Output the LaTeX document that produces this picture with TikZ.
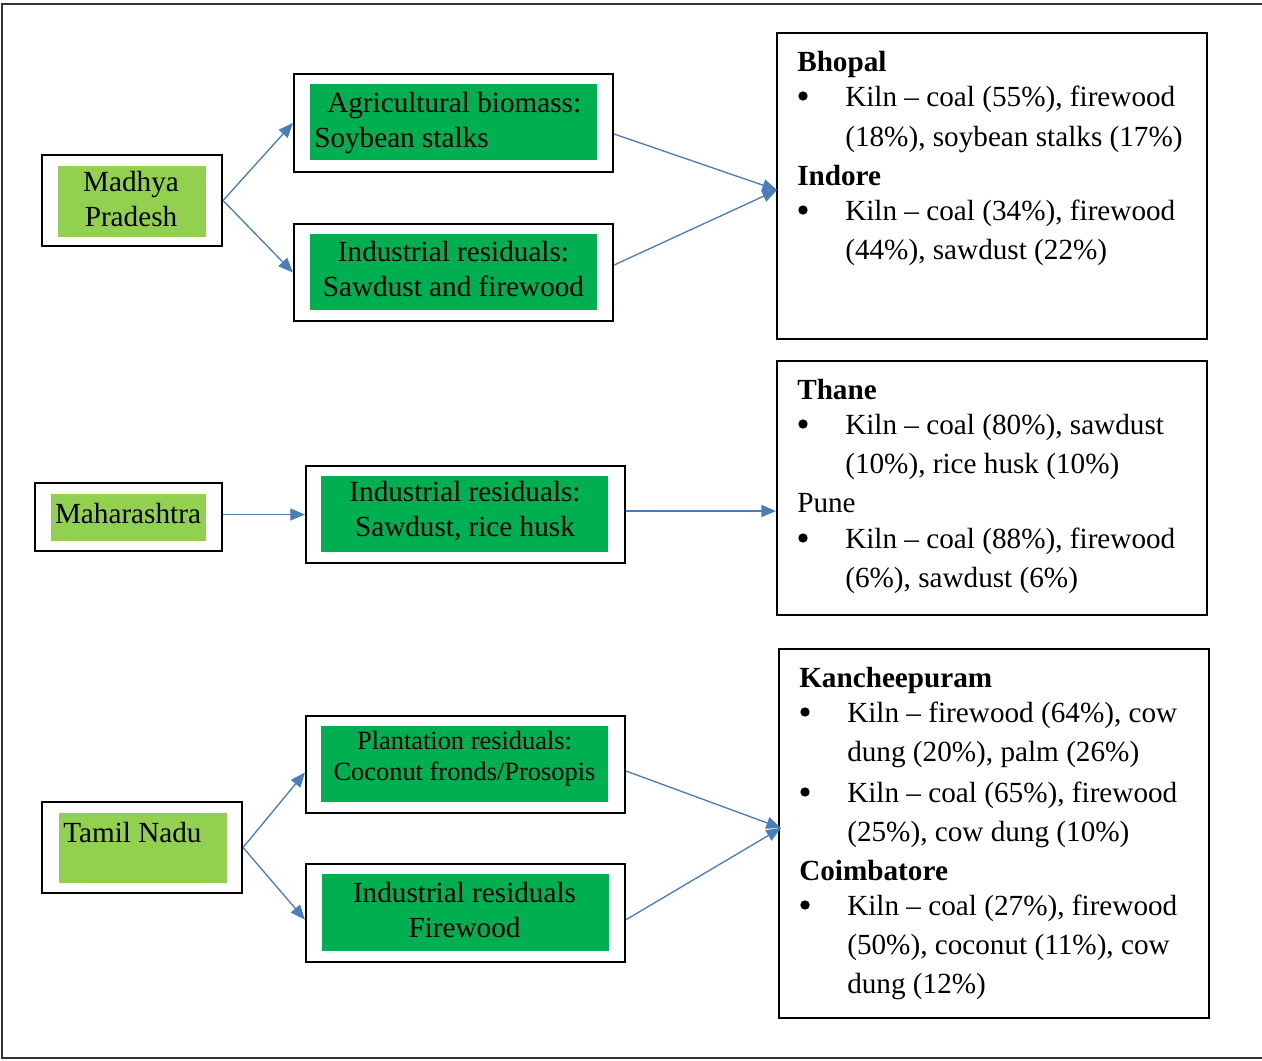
\documentclass[tikz,border=0pt]{standalone}
\usepackage{fontspec}
\setmainfont{Liberation Serif}
\usetikzlibrary{arrows.meta}
\definecolor{lgreen}{RGB}{146,208,80}
\definecolor{dgreen}{RGB}{0,176,80}
\definecolor{conn}{RGB}{74,126,187}
\tikzset{
  frame/.style={draw=black, line width=1.6pt, fill=white, inner sep=0pt},
  lbox/.style={fill=lgreen, inner sep=0pt},
  gbox/.style={fill=dgreen, inner sep=0pt},
  rbox/.style={draw=black, line width=1.4pt, inner sep=0pt},
  txt/.style={inner sep=0pt, font=\fontsize{21.9}{26.25}\selectfont},
  stxt/.style={inner sep=0pt, font=\fontsize{19.8}{23.25}\selectfont},
  ln/.style={inner sep=0pt, anchor=base west, font=\fontsize{21.9}{26}\selectfont},
  hd/.style={ln, font=\fontsize{21.9}{26}\selectfont\bfseries},
  bul/.style={circle, fill=black, inner sep=0pt, minimum size=7pt},
  conn/.style={draw=conn, line width=1pt, -{Triangle[length=11pt,width=9pt]}}
}
\begin{document}
\begin{tikzpicture}[x=0.75pt,y=-0.75pt]
\useasboundingbox (0,0) rectangle (1262,1060);
\begin{scope}
\clip (0,0) rectangle (1262,1060);
\draw[black!80, line width=1.5pt] (1270,4) -- (2,4) -- (2,1058) -- (1270,1058);
\end{scope}
% ---- Madhya Pradesh
\node[frame, minimum width=135pt, minimum height=68.25pt] (mp) at (132,200.5) {};
\node[lbox, minimum width=111pt, minimum height=53.25pt] (mpg) at (132,201.5) {};
\node[txt, align=center] (mpt) at (131,199.5) {Madhya\\Pradesh};
% ---- Agricultural biomass
\node[frame, minimum width=239.25pt, minimum height=73.5pt] (agri) at (453.5,123) {};
\node[gbox, minimum width=215.25pt, minimum height=57pt] (agrig) at (453.5,122) {};
\node[ln] (agri1) at (327,112) {Agricultural biomass:};
\node[ln] (agri2) at (314,147) {Soybean stalks};
% ---- Industrial residuals 1
\node[frame, minimum width=239.25pt, minimum height=72.75pt] (ind1) at (453.5,272.5) {};
\node[gbox, minimum width=215.25pt, minimum height=57pt] (ind1g) at (453.5,272) {};
\node[txt, align=center] (ind1t) at (453.5,269.5) {Industrial residuals:\\Sawdust and firewood};
% ---- Right box 1
\node[rbox, minimum width=322.5pt, minimum height=229.5pt] (b1) at (992,186) {};
\node[hd] (bhopal) at (797,71) {Bhopal};
\node[bul] (b1a) at (803,96) {};
\node[ln] (b1b) at (845,106) {Kiln – coal (55\%), firewood};
\node[ln] (b1c) at (845,146) {(18\%), soybean stalks (17\%)};
\node[hd] (indore) at (797,185) {Indore};
\node[bul] (b1d) at (803,210) {};
\node[ln] (b1e) at (845,220) {Kiln – coal (34\%), firewood};
\node[ln] (b1f) at (845,259) {(44\%), sawdust (22\%)};
% ---- Maharashtra
\node[frame, minimum width=140.25pt, minimum height=51pt] (mh) at (128.5,517) {};
\node[lbox, minimum width=116.25pt, minimum height=35.25pt] (mhg) at (128.5,517.5) {};
\node[txt] (mht) at (128,514) {Maharashtra};
% ---- Industrial residuals 2
\node[frame, minimum width=239.25pt, minimum height=72.75pt] (ind2) at (465.5,514.5) {};
\node[gbox, minimum width=215.25pt, minimum height=57pt] (ind2g) at (464.5,514) {};
\node[txt, align=center] (ind2t) at (465,511.5) {Industrial residuals:\\Sawdust, rice husk};
% ---- Right box 2
\node[rbox, minimum width=322.5pt, minimum height=190.5pt] (b2) at (992,488) {};
\node[hd] (thane) at (797,399) {Thane};
\node[bul] (b2a) at (803,424) {};
\node[ln] (b2b) at (845,434) {Kiln – coal (80\%), sawdust};
\node[ln] (b2c) at (845,473) {(10\%), rice husk (10\%)};
\node[ln] (pune) at (797,512) {Pune};
\node[bul] (b2d) at (803,538) {};
\node[ln] (b2e) at (845,548) {Kiln – coal (88\%), firewood};
\node[ln] (b2f) at (845,587) {(6\%), sawdust (6\%)};
% ---- Tamil Nadu
\node[frame, minimum width=150pt, minimum height=68.25pt] (tn) at (142,847.5) {};
\node[lbox, minimum width=126pt, minimum height=52.5pt] (tng) at (143,848) {};
\node[ln] (tnt) at (63,842) {Tamil Nadu};
% ---- Plantation residuals
\node[frame, minimum width=239.25pt, minimum height=72.75pt] (pl) at (465.5,764.5) {};
\node[gbox, minimum width=215.25pt, minimum height=57pt] (plg) at (464.5,764) {};
\node[stxt, align=center] (plt) at (464.5,758.5) {Plantation residuals:\\Coconut fronds/Prosopis};
% ---- Industrial residuals 3
\node[frame, minimum width=239.25pt, minimum height=73.5pt] (ind3) at (465.5,913) {};
\node[gbox, minimum width=215.25pt, minimum height=57.75pt] (ind3g) at (465.5,912.5) {};
\node[txt, align=center] (ind3t) at (464.5,909.5) {Industrial residuals\\Firewood};
% ---- Right box 3
\node[rbox, minimum width=322.5pt, minimum height=276.75pt] (b3) at (994,833.5) {};
\node[hd] (kanch) at (799,687) {Kancheepuram};
\node[bul] (b3a) at (805,712) {};
\node[ln] (b3b) at (847,722) {Kiln – firewood (64\%), cow};
\node[ln] (b3c) at (847,761) {dung (20\%), palm (26\%)};
\node[bul] (b3d) at (805,792) {};
\node[ln] (b3e) at (847,802) {Kiln – coal (65\%), firewood};
\node[ln] (b3f) at (847,841) {(25\%), cow dung (10\%)};
\node[hd] (coimb) at (799,880) {Coimbatore};
\node[bul] (b3g) at (805,905) {};
\node[ln] (b3h) at (847,915) {Kiln – coal (27\%), firewood};
\node[ln] (b3i) at (847,954) {(50\%), coconut (11\%), cow};
\node[ln] (b3j) at (847,993) {dung (12\%)};
% ---- connectors
\coordinate (t1) at (777,190);
\coordinate (t3) at (781,828);
\coordinate (s1) at (mh.east |- ind2.west);
\coordinate (s2) at ([yshift=2.6pt]ind2.east);
\draw[conn] (mp.east) -- (agri.west);
\draw[conn] (mp.east) -- (ind1.west);
\draw[conn] ([yshift=-8.25pt]agri.east) -- (t1);
\draw[conn] ([yshift=5.6pt]ind1.east) -- (t1);
\draw[conn] (s1) -- (ind2.west);
\draw[conn] (s2) -- (b2.west |- s2);
\draw[conn] (tn.east) -- ([yshift=-6pt]pl.west);
\draw[conn] (tn.east) -- ([yshift=-5pt]ind3.west);
\draw[conn] ([yshift=-4.9pt]pl.east) -- (t3);
\draw[conn] ([yshift=-5pt]ind3.east) -- (t3);
\end{tikzpicture}
\end{document}
